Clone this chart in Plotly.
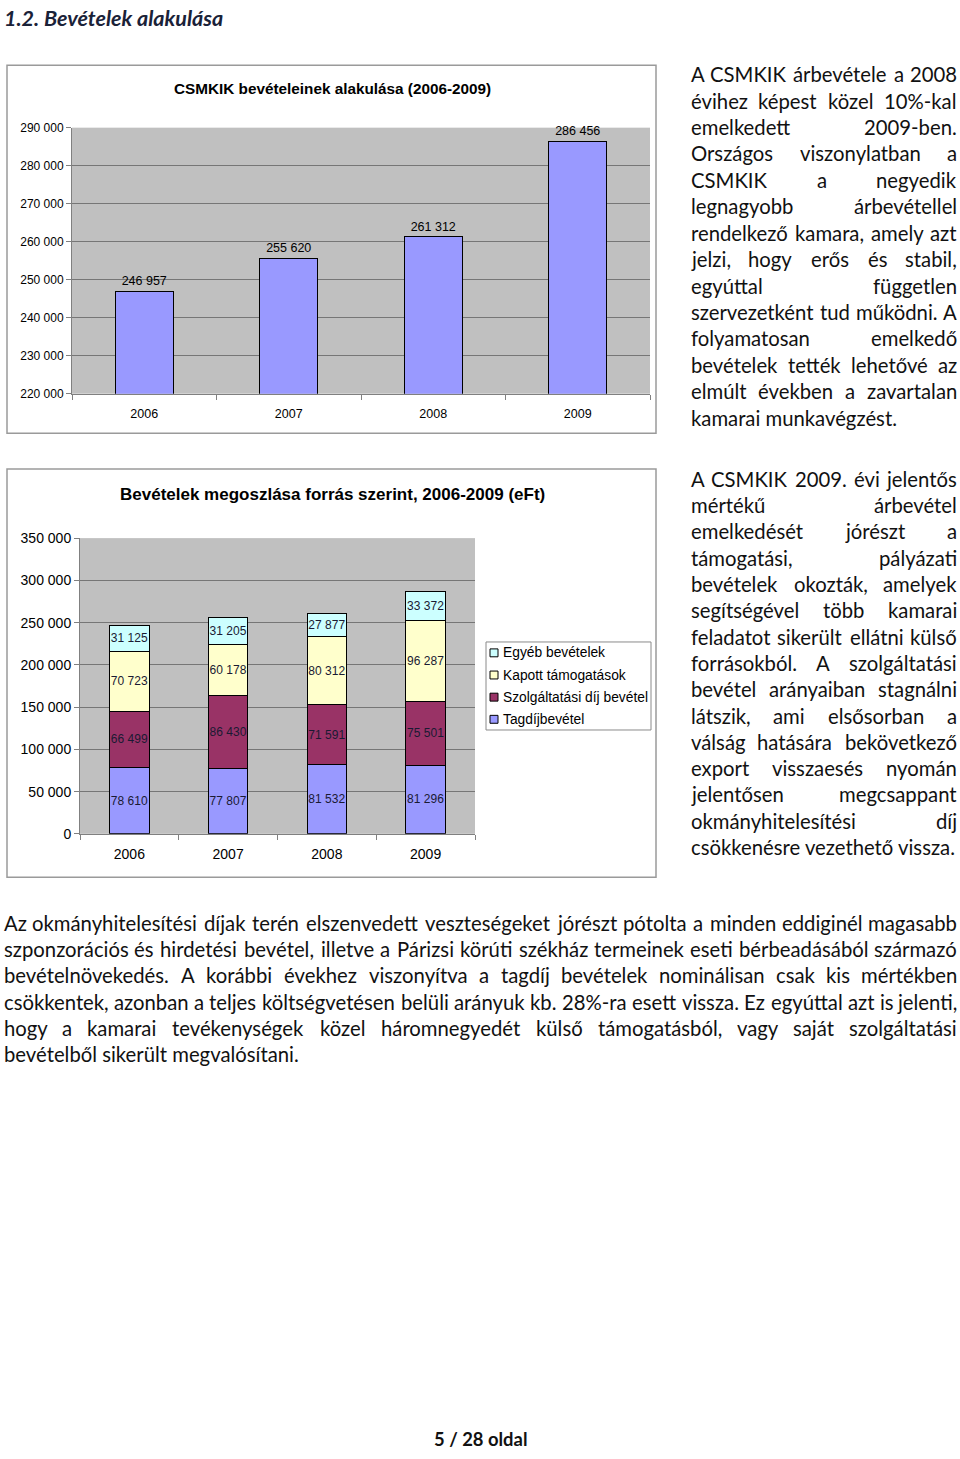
import glob
import struct
import plotly.graph_objects as go

W, H = 960, 1459

# --- adatok ---
years = ["2006", "2007", "2008", "2009"]
total_revenue = [246957, 255620, 261312, 286456]

series_names = ["Tagdíjbevétel", "Szolgáltatási díj bevétel", "Kapott támogatások", "Egyéb bevételek"]
tagdij = [78610, 77807, 81532, 81296]
szolgaltatasi = [66499, 86430, 71591, 75501]
tamogatas = [70723, 60178, 80312, 96287]
egyeb = [31125, 31205, 27877, 33372]
series_colors = ["#9999FF", "#993366", "#FFFFCC", "#CCFFFF"]

title_top = "CSMKIK bevételeinek alakulása (2006-2009)"
title_bottom = "Bevételek megoszlása forrás szerint, 2006-2009 (eFt)"
heading = "1.2. Bevételek alakulása"
footer = "5 / 28 oldal"

para1 = [
    "A CSMKIK árbevétele a 2008",
    "évihez képest közel 10%-kal",
    "emelkedett 2009-ben.",
    "Országos viszonylatban a",
    "CSMKIK a negyedik",
    "legnagyobb árbevétellel",
    "rendelkező kamara, amely azt",
    "jelzi, hogy erős és stabil,",
    "egyúttal független",
    "szervezetként tud működni. A",
    "folyamatosan emelkedő",
    "bevételek tették lehetővé az",
    "elmúlt években a zavartalan",
    "kamarai munkavégzést.",
]
para2 = [
    "A CSMKIK 2009. évi jelentős",
    "mértékű árbevétel",
    "emelkedését jórészt a",
    "támogatási, pályázati",
    "bevételek okozták, amelyek",
    "segítségével több kamarai",
    "feladatot sikerült ellátni külső",
    "forrásokból. A szolgáltatási",
    "bevétel arányaiban stagnálni",
    "látszik, ami elsősorban a",
    "válság hatására bekövetkező",
    "export visszaesés nyomán",
    "jelentősen megcsappant",
    "okmányhitelesítési díj",
    "csökkenésre vezethető vissza.",
]
para3 = [
    "Az okmányhitelesítési díjak terén elszenvedett veszteségeket jórészt pótolta a minden eddiginél magasabb",
    "szponzorációs és hirdetési bevétel, illetve a Párizsi körúti székház termeinek eseti bérbeadásából származó",
    "bevételnövekedés. A korábbi évekhez viszonyítva a tagdíj bevételek nominálisan csak kis mértékben",
    "csökkentek, azonban a teljes költségvetésen belüli arányuk kb. 28%-ra esett vissza. Ez egyúttal azt is jelenti,",
    "hogy a kamarai tevékenységek közel háromnegyedét külső támogatásból, vagy saját szolgáltatási",
    "bevételből sikerült megvalósítani.",
]

BODY_FONT = "Lato"
CHART_FONT = "Liberation Sans"


def px_x(x):
    return x / W


def px_y(y):
    return 1 - y / H


# szövegszélesség mérése a font hmtx táblájából (sorkizáráshoz)
def load_widths(path):
    data = open(path, "rb").read()
    ntab = struct.unpack(">H", data[4:6])[0]
    tabs = {}
    for i in range(ntab):
        tag, _, off, _ = struct.unpack(">4sIII", data[12 + 16 * i:28 + 16 * i])
        tabs[tag.decode("latin1")] = off
    upem = struct.unpack(">H", data[tabs["head"] + 18:tabs["head"] + 20])[0]
    nhm = struct.unpack(">H", data[tabs["hhea"] + 34:tabs["hhea"] + 36])[0]
    hm = tabs["hmtx"]
    adv = [struct.unpack(">H", data[hm + 4 * i:hm + 4 * i + 2])[0] for i in range(nhm)]
    c = tabs["cmap"]
    n = struct.unpack(">H", data[c + 2:c + 4])[0]
    cmap = {}
    for i in range(n):
        pid, eid, off = struct.unpack(">HHI", data[c + 4 + 8 * i:c + 12 + 8 * i])
        st = c + off
        if struct.unpack(">H", data[st:st + 2])[0] != 4 or pid not in (0, 3):
            continue
        segx2 = struct.unpack(">H", data[st + 6:st + 8])[0]
        seg = segx2 // 2
        ends = struct.unpack(">%dH" % seg, data[st + 14:st + 14 + segx2])
        starts = struct.unpack(">%dH" % seg, data[st + 16 + segx2:st + 16 + 2 * segx2])
        deltas = struct.unpack(">%dh" % seg, data[st + 16 + 2 * segx2:st + 16 + 3 * segx2])
        ro = st + 16 + 3 * segx2
        ros = struct.unpack(">%dH" % seg, data[ro:ro + segx2])
        for k in range(seg):
            for ch in range(starts[k], ends[k] + 1):
                if ch == 0xFFFF:
                    continue
                if ros[k] == 0:
                    g = (ch + deltas[k]) & 0xFFFF
                else:
                    a = ro + 2 * k + ros[k] + 2 * (ch - starts[k])
                    g = struct.unpack(">H", data[a:a + 2])[0]
                    if g:
                        g = (g + deltas[k]) & 0xFFFF
                cmap[ch] = g
        break

    def width(s, size):
        return sum(adv[min(cmap.get(ord(ch), 0), nhm - 1)] for ch in s) * size / upem

    return width


try:
    path = (glob.glob("/usr/share/fonts/**/Lato-Regular.ttf", recursive=True)
            + glob.glob("/usr/share/fonts/**/Lato*Regular*.ttf", recursive=True))[0]
    text_width = load_widths(path)
except Exception:
    def text_width(s, size):
        return 0.5 * size * len(s)

BODY_SIZE = 20.3

annotations = []


def add_text(txt, x, y, anchor, size=BODY_SIZE, color="#111111", family=BODY_FONT):
    annotations.append(dict(
        text=txt, x=px_x(x), y=px_y(y), xref="paper", yref="paper",
        xanchor=anchor, yanchor="middle", showarrow=False,
        font=dict(family=family, size=size, color=color), borderpad=0,
    ))


def justify(lines, x0, x1, y0, step):
    for i, line in enumerate(lines):
        y = y0 + step * i
        words = line.split(" ")
        if i == len(lines) - 1 or len(words) == 1:
            add_text(line, x0, y, "left")
            continue
        ws = [text_width(w, BODY_SIZE) for w in words]
        gap = (x1 - x0 - sum(ws)) / (len(words) - 1)
        x = x0
        for j, w in enumerate(words):
            if j == 0:
                add_text(w, x0, y, "left")
            elif j == len(words) - 1:
                add_text(w, x1, y, "right")
            else:
                add_text(w, x + ws[j] / 2, y, "center")
            x += ws[j] + gap


justify(para1, 690, 958, 67, 26.7)
justify(para2, 690, 958, 476, 26.6)
justify(para3, 3, 958, 925, 26.6)

add_text("<b><i>" + heading + "</i></b>", 3, 10, "left", size=21.5, color="#1A2238")
add_text("<b>" + footer + "</b>", 480, 1447, "center", size=18.4)
add_text("<b>" + title_top + "</b>", 332, 81, "center", size=15.3, color="#000000", family=CHART_FONT)
add_text("<b>" + title_bottom + "</b>", 332, 492, "center", size=17, color="#000000", family=CHART_FONT)

# keretek a diagramok körül
shapes = [
    dict(type="rect", xref="paper", yref="paper", x0=px_x(7), x1=px_x(656), y0=px_y(430), y1=px_y(58),
         line=dict(color="#9a9a9a", width=1.5), layer="below"),
    dict(type="rect", xref="paper", yref="paper", x0=px_x(7), x1=px_x(656), y0=px_y(879), y1=px_y(466),
         line=dict(color="#9a9a9a", width=1.5), layer="below"),
    # jelmagyarázat doboza
    dict(type="rect", xref="paper", yref="paper", x0=px_x(486), x1=px_x(651), y0=px_y(730), y1=px_y(641),
         fillcolor="#FFFFFF", line=dict(color="#8a8a8a", width=1)),
]

# jelmagyarázat (Excel-szerűen, fordított sorrendben)
for i, (name, col) in enumerate(reversed(list(zip(series_names, series_colors)))):
    yc = 652 + 22.4 * i
    shapes.append(dict(type="rect", xref="paper", yref="paper",
                       x0=px_x(490), x1=px_x(498), y0=px_y(yc + 4), y1=px_y(yc - 4),
                       fillcolor=col, line=dict(color="#000000", width=1)))
    add_text(name, 502, yc, "left", size=13.8, color="#000000", family=CHART_FONT)

fig = go.Figure()

fig.add_trace(go.Bar(
    x=years, y=total_revenue, xaxis="x", yaxis="y", showlegend=False,
    marker=dict(color="#9999FF", line=dict(color="#000000", width=1)),
    texttemplate="%{y:,d}", textposition="outside", cliponaxis=False,
    textfont=dict(family=CHART_FONT, size=12.5, color="#000000"),
))

for name, vals, col in zip(series_names, [tagdij, szolgaltatasi, tamogatas, egyeb], series_colors):
    fig.add_trace(go.Bar(
        x=years, y=vals, name=name, xaxis="x2", yaxis="y2", showlegend=False,
        marker=dict(color=col, line=dict(color="#000000", width=1)),
        texttemplate="%{y:,d}", textposition="inside", insidetextanchor="middle",
        textangle=0, constraintext="none",
        textfont=dict(family=CHART_FONT, size=12, color="#1a1a33"),
    ))

axis_common = dict(showline=True, linecolor="#808080", linewidth=1, ticks="outside",
                   tickcolor="#808080", ticklen=5, zeroline=False)

fig.update_layout(
    width=W, height=H, margin=dict(l=0, r=0, t=0, b=0),
    paper_bgcolor="#FFFFFF", plot_bgcolor="#C0C0C0",
    separators=", ", barmode="stack", bargap=0.6, showlegend=False,
    font=dict(family=CHART_FONT, color="#000000"),
    xaxis=dict(domain=[px_x(72), px_x(650)], anchor="y", type="category", tickson="boundaries",
               tickfont=dict(size=12.5), showgrid=False, ticklabelstandoff=8, **axis_common),
    yaxis=dict(domain=[px_y(390), px_y(121)], anchor="x", range=[220000, 290000], dtick=10000,
               tickformat=",d", tickfont=dict(size=12), showgrid=True, gridcolor="#767676",
               **axis_common),
    xaxis2=dict(domain=[px_x(80), px_x(475)], anchor="y2", type="category", tickson="boundaries",
                tickfont=dict(size=14), showgrid=False, ticklabelstandoff=7, **axis_common),
    yaxis2=dict(domain=[px_y(835), px_y(536)], anchor="x2", range=[0, 350000], dtick=50000,
                tickformat=",d", tickfont=dict(size=14), showgrid=True, gridcolor="#767676",
                **axis_common),
    annotations=annotations, shapes=shapes,
)

# az oldal alapmargójának kikapcsolása, hogy a figura a (0,0) pontban kezdődjön
fig.write_html("out.html", config={"displayModeBar": False},
               post_script="document.body.style.margin='0';")
